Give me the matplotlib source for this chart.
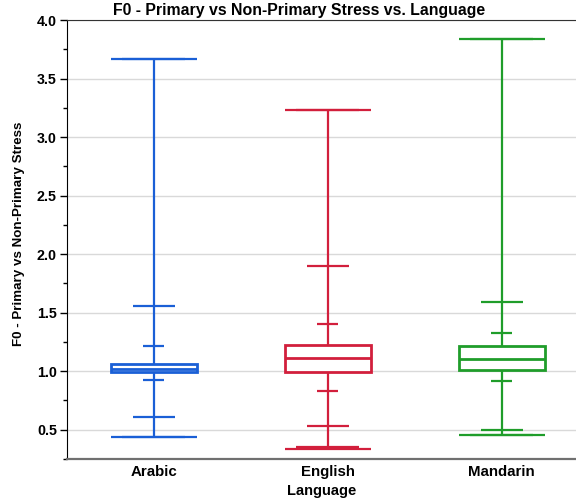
import matplotlib.pyplot as plt
from matplotlib.patches import Rectangle
from matplotlib.ticker import MultipleLocator

plt.rcParams['font.family'] = ['Liberation Sans', 'DejaVu Sans']
plt.rcParams['font.weight'] = 'bold'

languages = ['Arabic', 'English', 'Mandarin']
colors = ['#1a5fd6', '#d21f3c', '#1f9d2a']

# quantiles
q_min = [0.438, 0.336, 0.454]
q_005 = [0.438, 0.350, 0.454]
q_025 = [0.609, 0.531, 0.497]
q_10 = [0.926, 0.832, 0.917]
q_25 = [0.989, 0.997, 1.011]
q_50 = [1.023, 1.117, 1.105]
q_75 = [1.060, 1.228, 1.213]
q_90 = [1.216, 1.400, 1.330]
q_975 = [1.554, 1.900, 1.588]
q_995 = [3.664, 3.233, 3.839]
q_max = [3.664, 3.233, 3.839]

fig = plt.figure(figsize=(5.76, 5.0), dpi=100)
ax = fig.add_axes([66.7 / 576, 41 / 500, 1 - 66.7 / 576, 439 / 500])

box_half = 0.247
lw = 1.6
for i, lang in enumerate(languages):
    c = colors[i]
    ax.vlines(i, q_min[i], q_max[i], color=c, lw=lw, zorder=3)
    ax.hlines([q_min[i], q_max[i]], i - box_half, i + box_half, color=c, lw=lw, zorder=3)
    ax.hlines([q_005[i], q_995[i]], i - 0.18, i + 0.18, color=c, lw=lw, zorder=3)
    ax.hlines([q_025[i], q_975[i]], i - 0.121, i + 0.121, color=c, lw=lw, zorder=3)
    ax.hlines([q_10[i], q_90[i]], i - 0.06, i + 0.06, color=c, lw=lw, zorder=3)
    ax.add_patch(Rectangle((i - box_half, q_25[i]), 2 * box_half, q_75[i] - q_25[i],
                           facecolor='white', edgecolor=c, lw=lw + 0.4, zorder=4))
    ax.hlines(q_50[i], i - box_half, i + box_half, color=c, lw=lw + 0.4, zorder=5)

ax.set_xlim(-0.5, 2.427)
ax.set_ylim(0.25, 4.0)
ax.set_xticks(range(len(languages)))
ax.set_xticklabels(languages, fontsize=10.8, fontweight='bold')
ax.tick_params(axis='x', length=0, pad=4)
ax.yaxis.set_minor_locator(MultipleLocator(0.25))
ax.set_yticks([0.5, 1.0, 1.5, 2.0, 2.5, 3.0, 3.5, 4.0])
ax.set_yticklabels(['%.1f' % v for v in ax.get_yticks()], fontsize=10.3, fontweight='bold')
ax.tick_params(axis='y', which='major', length=5, width=1, direction='out', pad=2)
ax.tick_params(axis='y', which='minor', length=3, width=1, direction='out')
ax.grid(axis='y', color='#d9d9d9', lw=1.0, zorder=0)

ax.spines['right'].set_visible(False)
ax.spines['left'].set_color('black')
ax.spines['top'].set_color('#333333')
ax.spines['top'].set_linewidth(0.8)
ax.spines['bottom'].set_color('#707070')
ax.spines['bottom'].set_linewidth(1.6)

ax.set_xlabel('Language', fontsize=10.5, fontweight='bold', labelpad=4)
ax.set_ylabel('F0 - Primary vs Non-Primary Stress', fontsize=9.6, fontweight='bold')
ax.yaxis.set_label_coords(-(66.7 - 25) / 509.3, (459 - 234) / 439)
fig.text(299 / 576, 1 - 11 / 500, 'F0 - Primary vs Non-Primary Stress vs. Language',
         ha='center', va='center', fontsize=11.4, fontweight='bold')

fig.savefig('out.png', dpi=100)
